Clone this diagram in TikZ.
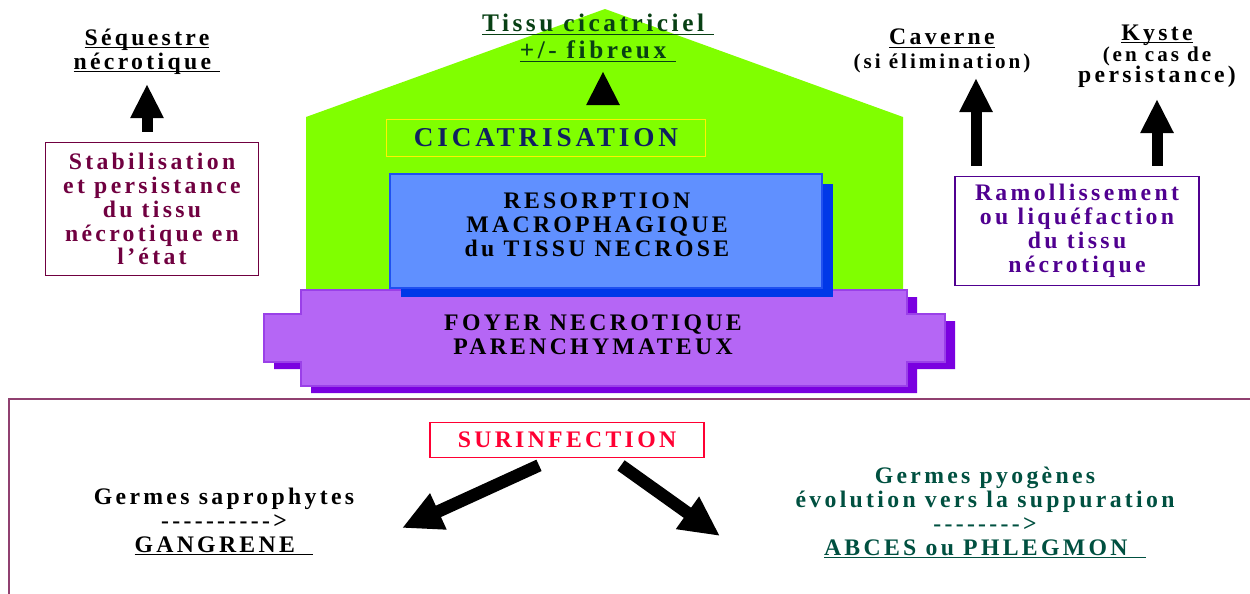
\documentclass[tikz,border=0pt]{standalone}
\usepackage{fontspec}
\setmainfont{Liberation Serif}[LetterSpace=14]
\usepackage{xcolor}
\usepackage{tikz}
\usetikzlibrary{arrows.meta, shadows}
\definecolor{cicaGreen}{RGB}{128,255,0}
\definecolor{cicaNavy}{RGB}{16,32,96}
\definecolor{tissuGreen}{RGB}{8,64,20}
\definecolor{resBlue}{RGB}{96,144,255}
\definecolor{resBorder}{RGB}{32,80,240}
\definecolor{resShadow}{RGB}{0,56,232}
\definecolor{foyPurple}{RGB}{181,102,245}
\definecolor{foyBorder}{RGB}{154,64,232}
\definecolor{foyShadow}{RGB}{122,0,224}
\definecolor{stabMaroon}{RGB}{112,0,64}
\definecolor{ramolPurple}{RGB}{80,0,144}
\definecolor{surinfRed}{RGB}{255,0,51}
\definecolor{abcesTeal}{RGB}{0,80,64}
\definecolor{frameCol}{RGB}{144,64,112}
\lineskiplimit=-100pt
\newcommand{\ulTxt}[1]{\underline{\smash{#1}}}

\begin{document}
\begin{tikzpicture}[x=0.02cm, y=-0.02cm,
  txt/.style={font=\bfseries\fontsize{13.5}{13.6}\selectfont, align=center, inner sep=1pt},
  textbox/.style={txt, draw, line width=1pt, inner sep=0pt},
  upArrow/.style={-{Triangle[width=0.62cm,length=0.68cm]}, line width=0.22cm},
  downArrow/.style={-{Triangle[width=0.74cm,length=0.8cm]}, line width=0.25cm}]
\useasboundingbox (0,0) rectangle (1250,593);
\fill[cicaGreen] (306,300) -- (306,117) -- (605,9) -- (903,117) -- (903,300) -- cycle;
\fill[foyShadow, xshift=0.2cm, yshift=-0.14cm] (301,290) -- (907,290) -- (907,314)
  -- (945,314) -- (945,362) -- (907,362) -- (907,386) -- (301,386) -- (301,362)
  -- (264,362) -- (264,314) -- (301,314) -- cycle;
\draw[foyBorder, fill=foyPurple, line width=1pt] (301,290) -- (907,290) -- (907,314)
  -- (945,314) -- (945,362) -- (907,362) -- (907,386) -- (301,386) -- (301,362)
  -- (264,362) -- (264,314) -- (301,314) -- cycle;
\node[txt] (foyer) at (593,335) {FOYER NECROTIQUE\\ PARENCHYMATEUX};
\node[draw=resBorder, fill=resBlue, line width=1pt, minimum width=8.64cm, minimum height=2.28cm,
  drop shadow={shadow xshift=0.22cm, shadow yshift=-0.19cm, fill=resShadow, opacity=1}]
  (resbox) at (606,231) {};
\node[txt] (resorp) at (597,225) {RESORPTION\\ MACROPHAGIQUE\\ du TISSU NECROSE};
\node[textbox, draw=yellow, text=cicaNavy, minimum width=6.38cm, minimum height=0.74cm,
  font=\bfseries\fontsize{15.5}{16}\selectfont] (cica) at (546,138) {CICATRISATION};
\node[txt, text=tissuGreen, font=\bfseries\fontsize{14.4}{15.3}\selectfont] (tissu) at (598,47)
  {\ulTxt{Tissu cicatriciel\ }\\ \ulTxt{+/- fibreux\ }};
\coordinate (tissutip) at (603,71);
\draw[upArrow, shorten <=0.32cm] (tissutip |- cica.north) -- (tissutip);
\node[txt] (seq) at (147,59) {\ulTxt{Séquestre}\\ \ulTxt{nécrotique\ }};
\node[textbox, draw=stabMaroon, text=stabMaroon, minimum width=4.26cm, minimum height=2.66cm]
  (stab) at (152,209) {Stabilisation\\ et persistance\\ du tissu\\ nécrotique en\\ l’état};
\coordinate (seqtip) at (147,84);
\draw[upArrow, shorten <=0.2cm] (seqtip |- stab.north) -- (seqtip);
\node[txt] (cav) at (942,59)
  {\ulTxt{Caverne}\\ \fontsize{12}{13.6}\selectfont(si élimination)};
\node[txt, font=\bfseries\fontsize{13.5}{12.2}\selectfont] (kyste) at (1157,64)
  {\ulTxt{Kyste}\\ \fontsize{12}{12.2}\selectfont(en cas de\\ persistance)};
\node[textbox, draw=ramolPurple, text=ramolPurple, minimum width=4.88cm, minimum height=2.18cm]
  (ramol) at (1077,231) {Ramollissement\\ ou liquéfaction\\ du tissu\\ nécrotique};
\coordinate (cavtip) at (976,78);
\coordinate (kystetip) at (1157,99);
\draw[upArrow, shorten <=0.2cm] (cavtip |- ramol.north) -- (cavtip);
\draw[upArrow, shorten <=0.2cm] (kystetip |- ramol.north) -- (kystetip);
\draw[frameCol, line width=0.8pt] (9,600) -- (9,399) -- (1260,399);
\node[textbox, draw=surinfRed, text=surinfRed, minimum width=5.48cm, minimum height=0.7cm]
  (surinf) at (567,440) {SURINFECTION};
\node[txt] (gang) at (224,522)
  {Germes saprophytes\\ -{}-{}-{}-{}-{}-{}-{}-{}-{}->\\ \ulTxt{GANGRENE\ \ }};
\node[txt, text=abcesTeal] (abces) at (985,513)
  {Germes pyogènes\\ évolution vers la suppuration\\ -{}-{}-{}-{}-{}-{}-{}->\\
   \ulTxt{ABCES ou PHLEGMON\ \ }};
\coordinate (gangtip) at (402,528);
\coordinate (abcestip) at (720,536);
\draw[downArrow] ([xshift=-0.56cm, yshift=-0.14cm]surinf.south) -- (gangtip);
\draw[downArrow] ([xshift=1.08cm, yshift=-0.14cm]surinf.south) -- (abcestip);
\end{tikzpicture}
\end{document}
